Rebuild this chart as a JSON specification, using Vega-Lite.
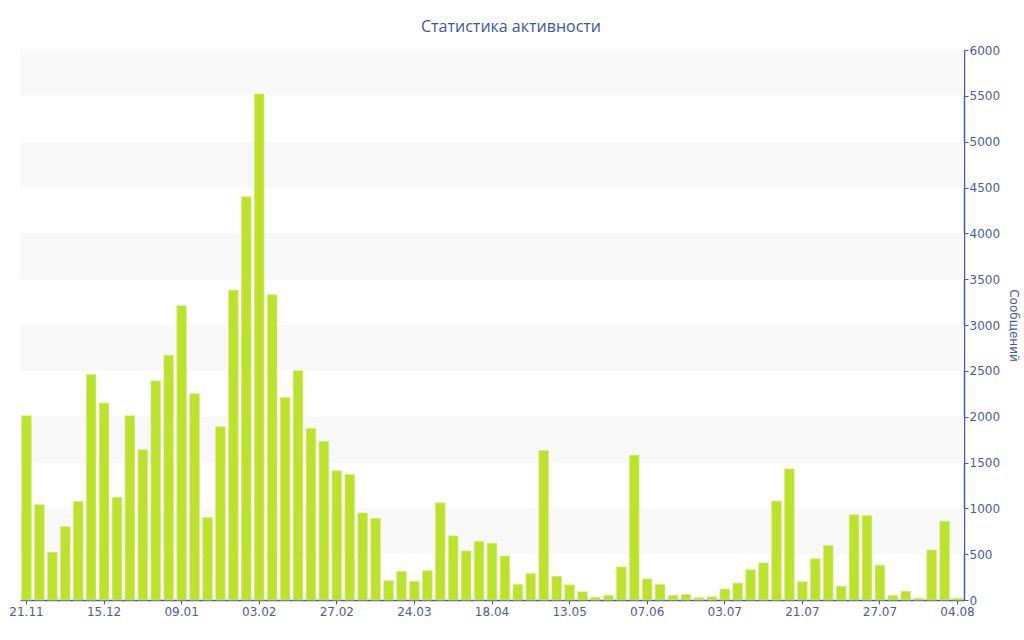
{
  "$schema": "https://vega.github.io/schema/vega-lite/v6.json",
  "width": 944,
  "height": 550,
  "autosize": "none",
  "padding": {"left": 20, "top": 50, "right": 60, "bottom": 40},
  "background": "white",
  "title": {
    "text": "Статистика активности",
    "font": "Open Sans",
    "fontSize": 16,
    "fontWeight": "normal",
    "color": "#3d55a5",
    "anchor": "middle",
    "baseline": "alphabetic",
    "dx": 19,
    "offset": -4
  },
  "config": {
    "view": {"stroke": null},
    "axis": {
      "labelFont": "DejaVu Sans",
      "labelFontSize": 12,
      "labelColor": "#4a5c9e",
      "domainColor": "#4a5c9e",
      "tickColor": "#4a5c9e",
      "titleFont": "DejaVu Sans",
      "titleFontSize": 12,
      "titleColor": "#4a5c9e",
      "titleFontWeight": "normal"
    }
  },
  "layer": [
    {
      "data": {
        "values": [
          {"lo": 500, "hi": 1000},
          {"lo": 1500, "hi": 2000},
          {"lo": 2500, "hi": 3000},
          {"lo": 3500, "hi": 4000},
          {"lo": 4500, "hi": 5000},
          {"lo": 5500, "hi": 6000}
        ]
      },
      "mark": {"type": "rect", "color": "#f8f8f8"},
      "encoding": {
        "x": {"value": 0},
        "x2": {"value": "width"},
        "y": {"field": "lo", "type": "quantitative", "scale": {"domain": [0, 6000]}},
        "y2": {"field": "hi"}
      }
    },
    {
      "data": {
        "values": [
          {"n": 1, "count": 2010}, {"n": 2, "count": 1040}, {"n": 3, "count": 520}, {"n": 4, "count": 800},
          {"n": 5, "count": 1075}, {"n": 6, "count": 2460}, {"n": 7, "count": 2150}, {"n": 8, "count": 1120},
          {"n": 9, "count": 2010}, {"n": 10, "count": 1640}, {"n": 11, "count": 2390}, {"n": 12, "count": 2670},
          {"n": 13, "count": 3210}, {"n": 14, "count": 2250}, {"n": 15, "count": 900}, {"n": 16, "count": 1890},
          {"n": 17, "count": 3380}, {"n": 18, "count": 4400}, {"n": 19, "count": 5520}, {"n": 20, "count": 3330},
          {"n": 21, "count": 2210}, {"n": 22, "count": 2500}, {"n": 23, "count": 1870}, {"n": 24, "count": 1730},
          {"n": 25, "count": 1410}, {"n": 26, "count": 1370}, {"n": 27, "count": 950}, {"n": 28, "count": 890},
          {"n": 29, "count": 210}, {"n": 30, "count": 310}, {"n": 31, "count": 205}, {"n": 32, "count": 320},
          {"n": 33, "count": 1060}, {"n": 34, "count": 700}, {"n": 35, "count": 535}, {"n": 36, "count": 640},
          {"n": 37, "count": 620}, {"n": 38, "count": 480}, {"n": 39, "count": 170}, {"n": 40, "count": 290},
          {"n": 41, "count": 1630}, {"n": 42, "count": 260}, {"n": 43, "count": 165}, {"n": 44, "count": 90},
          {"n": 45, "count": 30}, {"n": 46, "count": 50}, {"n": 47, "count": 360}, {"n": 48, "count": 1580},
          {"n": 49, "count": 230}, {"n": 50, "count": 170}, {"n": 51, "count": 50}, {"n": 52, "count": 60},
          {"n": 53, "count": 25}, {"n": 54, "count": 35}, {"n": 55, "count": 120}, {"n": 56, "count": 185},
          {"n": 57, "count": 330}, {"n": 58, "count": 405}, {"n": 59, "count": 1080}, {"n": 60, "count": 1430},
          {"n": 61, "count": 200}, {"n": 62, "count": 450}, {"n": 63, "count": 595}, {"n": 64, "count": 150},
          {"n": 65, "count": 930}, {"n": 66, "count": 920}, {"n": 67, "count": 380}, {"n": 68, "count": 50},
          {"n": 69, "count": 95}, {"n": 70, "count": 20}, {"n": 71, "count": 545}, {"n": 72, "count": 860},
          {"n": 73, "count": 20}
        ]
      },
      "mark": {"type": "bar", "color": "#bce22f", "stroke": "#d6ef7a", "strokeWidth": 0.6},
      "encoding": {
        "x": {
          "field": "n",
          "type": "ordinal",
          "scale": {"paddingInner": 0.25, "paddingOuter": 0.125},
          "axis": {
            "title": null,
            "labelAngle": 0,
            "values": [1, 7, 13, 19, 25, 31, 37, 43, 49, 55, 61, 67, 73],
            "labelExpr": "['21.11','15.12','09.01','03.02','27.02','24.03','18.04','13.05','07.06','03.07','21.07','27.07','04.08'][(datum.value - 1) / 6]",
            "tickSize": 4,
            "labelPadding": 2,
            "domainWidth": 1.5
          }
        },
        "y": {
          "field": "count",
          "type": "quantitative",
          "scale": {"domain": [0, 6000]},
          "axis": {
            "orient": "right",
            "title": "Сообщений",
            "titleAngle": 90,
            "titlePadding": 7,
            "format": "d",
            "values": [0, 500, 1000, 1500, 2000, 2500, 3000, 3500, 4000, 4500, 5000, 5500, 6000],
            "grid": false,
            "tickSize": 4,
            "labelPadding": 1,
            "domainWidth": 1.5
          }
        }
      }
    }
  ]
}
